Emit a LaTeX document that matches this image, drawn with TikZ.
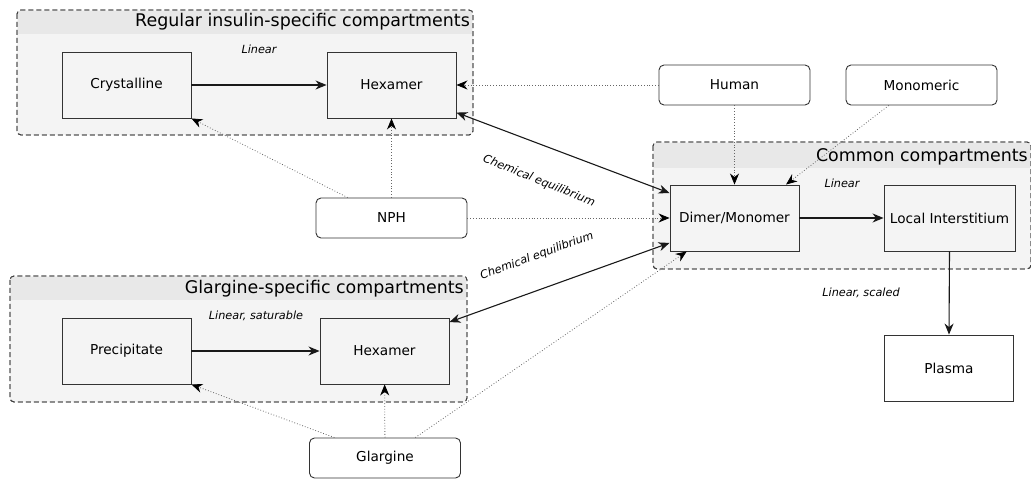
\documentclass[tikz,border=0pt]{standalone}
\usepackage{fontspec}
\setmainfont{DejaVu Sans}
\usetikzlibrary{arrows.meta}

\definecolor{grpfill}{HTML}{F4F4F4}
\definecolor{grphead}{HTML}{E8E8E8}
\definecolor{lineclr}{HTML}{333333}

\begin{document}
\begin{tikzpicture}[x=1bp, y=-1bp,
    >={Stealth[length=11bp, width=9bp, inset=3.5bp]},
    comp/.style={draw=lineclr, line width=0.9bp, fill=grpfill, minimum width=129bp,
      minimum height=66bp, inner sep=0pt, font=\fontsize{13.7}{15}\selectfont},
    source/.style={draw=lineclr, line width=0.9bp, fill=white, rounded corners=5bp,
      minimum width=151bp, minimum height=40bp, inner sep=0pt,
      font=\fontsize{13.7}{15}\selectfont},
    group/.style={draw=black!75, dashed, dash pattern=on 5bp off 3bp, rounded corners=4bp,
      fill=grpfill, line width=0.9bp},
    title/.style={anchor=east, inner sep=0pt, font=\fontsize{17.5}{19}\selectfont},
    rate/.style={font=\itshape\fontsize{11.3}{13}\selectfont},
    flow/.style={->, line width=1.1bp, black!90},
    dose/.style={-{Stealth[length=11bp, width=9bp, inset=3.5bp, black]}, dotted,
      line width=0.8bp, black!60}]
  \useasboundingbox (0, 0) rectangle (1031, 480);

  % Compartment groups
  \draw[group] (17, 10) rectangle (473, 135);
  \fill[grphead] (18, 11) rectangle (472, 34);
  \draw[group, fill=none] (17, 10) rectangle (473, 135);
  \node[title] at (470, 22) {Regular insulin-specific compartments};

  \draw[group] (653, 142) rectangle (1031, 269);
  \fill[grphead] (654, 143) rectangle (1030, 168);
  \draw[group, fill=none] (653, 142) rectangle (1031, 269);
  \node[title] at (1028, 157) {Common compartments};

  \draw[group] (10, 276) rectangle (467, 402);
  \fill[grphead] (11, 277) rectangle (466, 300);
  \draw[group, fill=none] (10, 276) rectangle (467, 402);
  \node[title] at (464, 289) {Glargine-specific compartments};

  % Compartments
  \node[comp] (cryst) at (126.5, 85) {Crystalline};
  \node[comp] (hexreg) at (391.5, 85) {Hexamer};
  \node[comp] (prec) at (126.5, 351) {Precipitate};
  \node[comp] (hexgla) at (384.5, 351) {Hexamer};
  \node[comp] (dimer) at (734.5, 218) {Dimer/Monomer};
  \node[comp, minimum width=131bp] (local) at (949.5, 218) {Local Interstitium};
  \node[comp, fill=white] (plasma) at (949, 368) {Plasma};

  % Insulin types
  \node[source] (human) at (734.5, 85) {Human};
  \node[source] (mono) at (921.5, 85) {Monomeric};
  \node[source] (nph) at (391.5, 218) {NPH};
  \node[source] (glarg) at (385, 458) {Glargine};

  % Transfers
  \draw[flow] (cryst) -- (hexreg);
  \draw[flow] (prec) -- (hexgla);
  \draw[flow] (dimer) -- (local);
  \draw[flow] (local.south) -- (plasma.north);
  \draw[flow, <->] (hexreg.-23) -- (dimer.159);
  \draw[flow, <->] (hexgla.24) -- (dimer.201);

  % Doses
  \draw[dose] (human) -- (hexreg);
  \draw[dose] (human) -- (dimer);
  \draw[dose] (mono.212) -- (dimer.33);
  \draw[dose] (nph.155) -- (cryst.south east);
  \draw[dose] (nph) -- (hexreg);
  \draw[dose] (nph) -- (dimer);
  \draw[dose] (glarg.158) -- (prec.south east);
  \draw[dose] (glarg) -- (hexgla);
  \draw[dose] (glarg.34) -- (dimer.215);

  % Rates
  \node[rate] at (259, 49) {Linear};
  \node[rate] at (256, 316) {Linear, saturable};
  \node[rate] at (842, 183) {Linear};
  \node[rate] at (861, 293) {Linear, scaled};
  \node[rate, rotate=-22] at (539, 181) {Chemical equilibrium};
  \node[rate, rotate=20] at (537, 256) {Chemical equilibrium};
\end{tikzpicture}
\end{document}
